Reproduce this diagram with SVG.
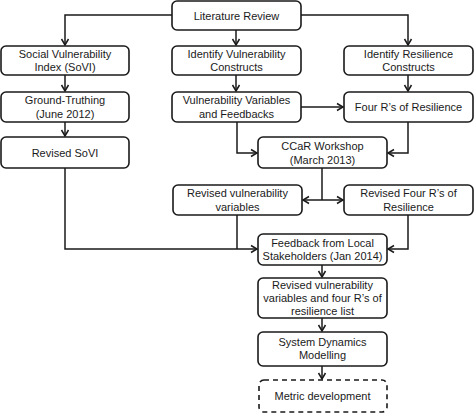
<svg xmlns="http://www.w3.org/2000/svg" width="474" height="413" viewBox="0 0 474 413">
<style>
.box{fill:#fff;stroke:#1a1a1a;stroke-width:1.6}
.dash{stroke-dasharray:5,4}
.t{font-family:"Liberation Sans",Arial,sans-serif;font-size:11px;fill:#1a1a1a;text-anchor:middle}
.c{fill:none;stroke:#1a1a1a;stroke-width:1.5}
</style>
<defs>
<marker id="a" markerWidth="10" markerHeight="10" refX="8" refY="5" orient="auto" markerUnits="userSpaceOnUse">
<path d="M2,1.5 L8,5 L2,8.5" fill="none" stroke="#1a1a1a" stroke-width="1.5"/>
</marker>
<marker id="s" markerWidth="10" markerHeight="10" refX="2" refY="5" orient="auto" markerUnits="userSpaceOnUse">
<path d="M8,1.5 L2,5 L8,8.5" fill="none" stroke="#1a1a1a" stroke-width="1.5"/>
</marker>
</defs>
<g id="connectors">
<path class="c" d="M172,15 H65 V45" marker-end="url(#a)"/>
<path class="c" d="M301,15 H408 V45" marker-end="url(#a)"/>
<path class="c" d="M236,30 V45" marker-end="url(#a)"/>
<path class="c" d="M65,75 V91" marker-end="url(#a)"/>
<path class="c" d="M236,75 V91" marker-end="url(#a)"/>
<path class="c" d="M408,75 V91" marker-end="url(#a)"/>
<path class="c" d="M65,122 V136" marker-end="url(#a)"/>
<path class="c" d="M301,107 H343" marker-end="url(#a)"/>
<path class="c" d="M237,122 V153 H257" marker-end="url(#a)"/>
<path class="c" d="M408,122 V153 H388" marker-end="url(#a)"/>
<path class="c" d="M322,168 V200"/>
<path class="c" d="M303,200 H343" marker-start="url(#s)" marker-end="url(#a)"/>
<path class="c" d="M65,168 V249 H257" marker-end="url(#a)"/>
<path class="c" d="M237,215 V249"/>
<path class="c" d="M408,215 V249 H388" marker-end="url(#a)"/>
<path class="c" d="M322,265 V277" marker-end="url(#a)"/>
<path class="c" d="M322,318 V331" marker-end="url(#a)"/>
<path class="c" d="M322,366 V379" marker-end="url(#a)"/>
</g>
<g id="n1"><rect class="box" x="172" y="1" width="129" height="29" rx="5"/><text class="t" x="236.5" y="19.5">Literature Review</text></g>
<g id="n2"><rect class="box" x="1" y="46" width="128" height="29" rx="5"/><text class="t" x="65" y="57.5">Social Vulnerability</text><text class="t" x="65" y="71">Index (SoVI)</text></g>
<g id="n3"><rect class="box" x="172" y="46" width="129" height="29" rx="5"/><text class="t" x="236.5" y="57.5">Identify Vulnerability</text><text class="t" x="236.5" y="71">Constructs</text></g>
<g id="n4"><rect class="box" x="344" y="46" width="129" height="29" rx="5"/><text class="t" x="408.5" y="57.5">Identify Resilience</text><text class="t" x="408.5" y="71">Constructs</text></g>
<g id="n5"><rect class="box" x="1" y="92" width="128" height="30" rx="5"/><text class="t" x="65" y="104">Ground-Truthing</text><text class="t" x="65" y="117.5">(June 2012)</text></g>
<g id="n6"><rect class="box" x="172" y="92" width="129" height="30" rx="5"/><text class="t" x="236.5" y="104">Vulnerability Variables</text><text class="t" x="236.5" y="117.5">and Feedbacks</text></g>
<g id="n7"><rect class="box" x="344" y="92" width="129" height="30" rx="5"/><text class="t" x="408.5" y="111">Four R’s of Resilience</text></g>
<g id="n8"><rect class="box" x="1" y="137" width="128" height="31" rx="5"/><text class="t" x="65" y="157">Revised SoVI</text></g>
<g id="n9"><rect class="box" x="258" y="137" width="129" height="31" rx="5"/><text class="t" x="322.5" y="150">CCaR Workshop</text><text class="t" x="322.5" y="163.5">(March 2013)</text></g>
<g id="n10"><rect class="box" x="173" y="185" width="129" height="30" rx="5"/><text class="t" x="237.5" y="197">Revised vulnerability</text><text class="t" x="237.5" y="210.5">variables</text></g>
<g id="n11"><rect class="box" x="344" y="185" width="129" height="30" rx="5"/><text class="t" x="408.5" y="197">Revised Four R’s of</text><text class="t" x="408.5" y="210.5">Resilience</text></g>
<g id="n12"><rect class="box" x="258" y="234" width="129" height="31" rx="5"/><text class="t" x="322.5" y="246.5">Feedback from Local</text><text class="t" x="322.5" y="260">Stakeholders (Jan 2014)</text></g>
<g id="n13"><rect class="box" x="258" y="278" width="129" height="40" rx="5"/><text class="t" x="322.5" y="288.5">Revised vulnerability</text><text class="t" x="322.5" y="301.5">variables and four R’s of</text><text class="t" x="322.5" y="314.5">resilience list</text></g>
<g id="n14"><rect class="box" x="258" y="332" width="129" height="34" rx="5"/><text class="t" x="322.5" y="345.5">System Dynamics</text><text class="t" x="322.5" y="359">Modelling</text></g>
<g id="n15"><rect class="box dash" x="259" y="380" width="128" height="32" rx="5"/><text class="t" x="322.5" y="400">Metric development</text></g>
</svg>
